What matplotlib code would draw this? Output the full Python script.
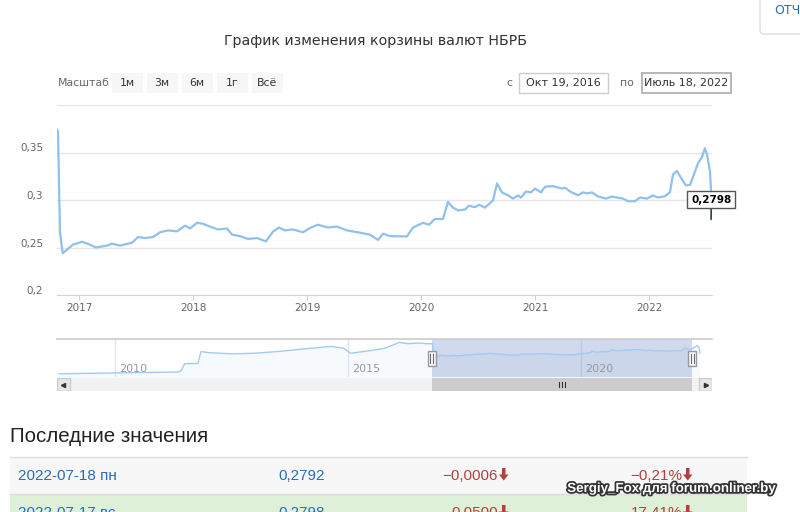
import matplotlib.pyplot as plt
import matplotlib.patheffects as pe
from matplotlib.patches import Rectangle, FancyBboxPatch, Polygon
from matplotlib.transforms import ScaledTranslation

# - Data (decimal years): Oct 19, 2016 .. Jul 18, 2022

years = [
    2016.807, 2016.816, 2016.833, 2016.857, 2016.947, 2017.026, 2017.096, 2017.149, 2017.246, 2017.289,
    2017.360, 2017.465, 2017.518, 2017.579, 2017.649, 2017.711, 2017.781, 2017.860, 2017.930, 2017.974,
    2018.035, 2018.088, 2018.149, 2018.219, 2018.298, 2018.342, 2018.412, 2018.482, 2018.561, 2018.640,
    2018.702, 2018.754, 2018.807, 2018.877, 2018.965, 2019.026, 2019.096, 2019.184, 2019.263, 2019.351,
    2019.465, 2019.553, 2019.623, 2019.667, 2019.728, 2019.816, 2019.877, 2019.930, 2020.018, 2020.070,
    2020.123, 2020.193, 2020.237, 2020.281, 2020.325, 2020.386, 2020.421, 2020.474, 2020.509, 2020.561,
    2020.632, 2020.667, 2020.711, 2020.763, 2020.807, 2020.851, 2020.877, 2020.921, 2020.965, 2021.000,
    2021.053, 2021.088, 2021.158, 2021.237, 2021.263, 2021.307, 2021.377, 2021.421, 2021.456, 2021.500,
    2021.553, 2021.623, 2021.675, 2021.719, 2021.772, 2021.816, 2021.877, 2021.921, 2021.982, 2022.035,
    2022.079, 2022.140, 2022.184, 2022.211, 2022.246, 2022.289, 2022.325, 2022.360, 2022.395, 2022.430,
    2022.465, 2022.491, 2022.509, 2022.535, 2022.544, 2022.546,
]
basket = [
    0.374, 0.372, 0.266, 0.244, 0.253, 0.256, 0.253, 0.250, 0.252, 0.254,
    0.252, 0.255, 0.261, 0.260, 0.261, 0.266, 0.268, 0.267, 0.273, 0.270,
    0.276, 0.275, 0.272, 0.269, 0.270, 0.2635, 0.262, 0.259, 0.260, 0.2565,
    0.2667, 0.271, 0.268, 0.269, 0.266, 0.2705, 0.274, 0.271, 0.272, 0.268,
    0.2656, 0.2635, 0.258, 0.2645, 0.262, 0.2617, 0.2617, 0.271, 0.276, 0.274,
    0.280, 0.280, 0.298, 0.292, 0.289, 0.290, 0.294, 0.2924, 0.295, 0.292,
    0.2995, 0.3175, 0.308, 0.305, 0.3015, 0.3048, 0.3026, 0.309, 0.308, 0.312,
    0.308, 0.314, 0.3146, 0.312, 0.313, 0.309, 0.305, 0.308, 0.307, 0.308,
    0.3037, 0.3015, 0.3037, 0.3026, 0.3015, 0.2987, 0.2987, 0.3026, 0.3015, 0.3048,
    0.3026, 0.304, 0.308, 0.327, 0.3305, 0.3217, 0.3153, 0.316, 0.327, 0.3386,
    0.345, 0.3545, 0.348, 0.3305, 0.311, 0.2798,
]

# - Earlier history, only seen in the navigator

hist_years = [2008.80, 2009.04, 2010.00, 2011.36, 2011.42, 2011.50, 2011.78, 2011.85, 2012.00, 2012.55,
              2013.00, 2013.50, 2014.00, 2014.64, 2014.90, 2015.06, 2015.50, 2015.80, 2016.10, 2016.30,
              2016.50, 2016.72]
hist_basket = [0.070, 0.071, 0.078, 0.088, 0.100, 0.172, 0.174, 0.296, 0.284, 0.271,
               0.278, 0.295, 0.319, 0.347, 0.329, 0.278, 0.305, 0.329, 0.388, 0.374,
               0.381, 0.374]

y_ticks = [0.2, 0.25, 0.3, 0.35, 0.4]
y_tick_labels = ["0,2", "0,25", "0,3", "0,35", ""]
x_ticks = [2017, 2018, 2019, 2020, 2021, 2022]
nav_ticks = [2010, 2015, 2020]
selected_range = (2016.80, 2022.39)

title = "График изменения корзины валют НБРБ"
zoom_buttons = ["1м", "3м", "6м", "1г", "Всё"]
date_from = "Окт 19, 2016"
date_to = "Июль 18, 2022"
last_value = "0,2798"

table_rows = [
    ("2022-07-18 пн", "0,2792", "−0,0006", "−0,21%"),
    ("2022-07-17 вс", "0,2798", "0,0500", "17,41%"),
]

plt.rcParams["font.family"] = ["DejaVu Sans"]

W, H = 800, 512


def box(left, top, right, bottom):
    return [left / W, 1 - bottom / H, (right - left) / W, (bottom - top) / H]


fig = plt.figure(figsize=(8, 5.12), dpi=100)
fig.patch.set_facecolor("white")

# - Page chrome in pixel coordinates

bg = fig.add_axes([0, 0, 1, 1])
bg.set_xlim(0, W)
bg.set_ylim(H, 0)
bg.axis("off")

bg.text(375, 41, title, ha="center", va="center", fontsize=10.2, color="#333333")

bg.text(58, 83, "Масштаб", ha="left", va="center", fontsize=7.8, color="#666666")
for label, x0 in zip(zoom_buttons, [112, 147, 182, 217, 252]):
    bg.add_patch(Rectangle((x0, 73), 30.5, 20, fc="#f7f7f7", ec="none"))
    bg.text(x0 + 15.25, 83, label, ha="center", va="center", fontsize=7.8, color="#333333")

bg.text(509, 83, "с", ha="center", va="center", fontsize=7.8, color="#666666")
bg.add_patch(Rectangle((519, 73), 89, 20, fc="white", ec="#cccccc", lw=1))
bg.text(563.5, 83, date_from, ha="center", va="center", fontsize=8, color="#333333")
bg.text(627, 83, "по", ha="center", va="center", fontsize=7.8, color="#666666")
bg.add_patch(Rectangle((642, 73), 89, 20, fc="white", ec="#aaaaaa", lw=1.2))
bg.text(686.5, 83, date_to, ha="center", va="center", fontsize=8, color="#333333")

bg.add_patch(FancyBboxPatch((760, -10), 60, 44, boxstyle="round,pad=0,rounding_size=4",
                            fc="white", ec="#dddddd", lw=1))
bg.text(774, 10, "ОТЧЕТЫ", ha="left", va="center", fontsize=9, color="#2a6db5", clip_on=True)

# - Table of last values below the chart

bg.text(10, 442, "Последние значения", ha="left", va="baseline", fontsize=14.8,
        color="#222222", family="Liberation Sans")

row_colors = ["#f7f7f7", "#dff0d8"]
row_tops = [457, 494]
for (day, value, diff, pct), color, top in zip(table_rows, row_colors, row_tops):
    bg.add_patch(Rectangle((10, top), 737, 37, fc=color, ec="none", clip_on=True))
    bg.plot([10, 747], [top, top], color="#dddddd", lw=1)
    base = top + 23
    bg.text(18, base, day, ha="left", va="baseline", fontsize=11, color="#2a6db5",
            family="Liberation Sans", clip_on=True)
    bg.text(278, base, value, ha="left", va="baseline", fontsize=11, color="#2a6db5",
            family="Liberation Sans", clip_on=True)
    for text, x_arrow in ((diff, 499), (pct, 683)):
        bg.text(x_arrow - 1, base, text, ha="right", va="baseline", fontsize=11, color="#b0413e",
                family="Liberation Sans", clip_on=True)
        y0 = base - 12
        bg.add_patch(Polygon([(x_arrow + 3, y0), (x_arrow + 6.5, y0), (x_arrow + 6.5, y0 + 6.5),
                              (x_arrow + 9.5, y0 + 6.5), (x_arrow + 4.75, y0 + 12.5),
                              (x_arrow + 0, y0 + 6.5), (x_arrow + 3, y0 + 6.5)],
                             closed=True, fc="#b0413e", ec="none", clip_on=True))

bg.text(672, 489, "Sergiy_Fox для forum.onliner.by", ha="center", va="center", fontsize=9.6,
        fontweight="bold", color="white", family=["Liberation Sans Narrow", "Liberation Sans"],
        path_effects=[pe.withStroke(linewidth=2.5, foreground="#333333")])

# - Main chart

ax = fig.add_axes(box(57, 105, 712, 295))
ax.set_facecolor("none")
ax.plot(years, basket, color="#8fc0ee", lw=1.6, solid_joinstyle="round")
ax.set_xlim(2016.807, 2022.553)
ax.set_ylim(0.2, 0.4)
ax.set_yticks(y_ticks, y_tick_labels)
ax.set_xticks(x_ticks, [str(t) for t in x_ticks])
ax.yaxis.grid(True, color="#e6e6e6", lw=1)
ax.set_axisbelow(True)
for side in ("top", "left", "right"):
    ax.spines[side].set_visible(False)
ax.spines["bottom"].set_color("#ccd6eb")
ax.tick_params(axis="y", length=0, pad=10, labelsize=7.5, labelcolor="#666666")
ax.tick_params(axis="x", length=3.6, color="#ccd6eb", pad=2, labelsize=7.5, labelcolor="#666666")
for lbl in ax.get_yticklabels():
    lbl.set_transform(lbl.get_transform() + ScaledTranslation(0, 0.05, fig.dpi_scale_trans))

ax.annotate(last_value, xy=(years[-1], basket[-1]), xytext=(0, 14), textcoords="offset points",
            ha="center", va="center", fontsize=7.5, fontweight="bold", color="black",
            bbox=dict(boxstyle="square,pad=0.35", fc="white", ec="#555555", lw=1),
            arrowprops=dict(arrowstyle="-", color="#333333", lw=1, shrinkA=0, shrinkB=0),
            annotation_clip=False)

# - Navigator

all_years = hist_years + years
all_basket = hist_basket + basket

nav = fig.add_axes(box(57, 339, 712, 377))
nav.set_facecolor("none")
nav.set_xlim(2008.76, 2022.81)
nav.set_ylim(0.037, 0.422)
nav.fill_between(all_years, all_basket, 0, color="#7cb5ec", alpha=0.06, lw=0)
nav.plot(all_years, all_basket, color="#a3cbf0", lw=1)
for t in nav_ticks:
    nav.axvline(t, color="#e6e6e6", lw=1, zorder=0)
    nav.annotate(str(t), xy=(t, 0.2), xycoords=("data", "axes fraction"), xytext=(3, 0),
                 textcoords="offset points", ha="left", va="center", fontsize=8, color="#999999")
nav.axvspan(*selected_range, color=(102 / 255, 133 / 255, 194 / 255), alpha=0.3, lw=0)
nav.set_xticks([])
nav.set_yticks([])
for side in ("left", "right", "bottom"):
    nav.spines[side].set_visible(False)
nav.spines["top"].set_color("#cccccc")
nav.spines["top"].set_linewidth(1.2)

for x in selected_range:
    nav.add_patch(Rectangle((x - 0.086, 0.29), 0.172, 0.4, transform=nav.get_xaxis_transform(),
                            fc="#f2f2f2", ec="#999999", lw=1, clip_on=False, zorder=5))
    for dx in (-0.03, 0.03):
        nav.plot([x + dx, x + dx], [0.38, 0.6], transform=nav.get_xaxis_transform(),
                 color="#666666", lw=0.7, clip_on=False, zorder=6)

# - Scrollbar

sb = fig.add_axes(box(57, 378, 712, 391))
sb.set_facecolor("#f2f2f2")
sb.set_xlim(nav.get_xlim())
sb.set_ylim(0, 1)
sb.axvspan(*selected_range, color="#cccccc", lw=0)
mid = sum(selected_range) / 2
for dx in (-0.065, 0, 0.065):
    sb.plot([mid + dx, mid + dx], [0.3, 0.7], color="#333333", lw=0.8)
for x0, marker in ((0, "<"), (1 - 13 / 655, ">")):
    sb.add_patch(Rectangle((x0, 0), 13 / 655, 1, transform=sb.transAxes,
                           fc="#e6e6e6", ec="#cccccc", lw=1, zorder=5))
    sb.plot([x0 + 6.5 / 655], [0.5], marker=marker, ms=3, color="#333333",
            transform=sb.transAxes, zorder=6)
sb.set_xticks([])
sb.set_yticks([])
for spine in sb.spines.values():
    spine.set_visible(False)

plt.savefig("out.png", dpi=100)
